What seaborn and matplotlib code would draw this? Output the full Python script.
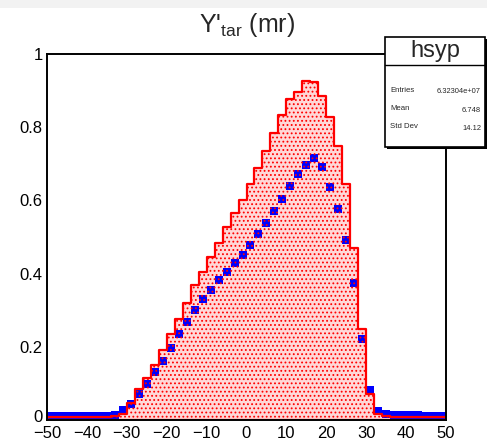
import numpy as np
import pandas as pd
import matplotlib
matplotlib.use("Agg")
import matplotlib.pyplot as plt
import matplotlib.transforms as mtransforms
from matplotlib.patches import Rectangle
import seaborn as sns

# ---------------- data ----------------
bin_edges = list(range(-50, 52, 2))
bin_centers = list(range(-49, 50, 2))

hist_values = [
    0.008, 0.008, 0.008, 0.008, 0.008, 0.008, 0.008, 0.008, 0.012, 0.016,
    0.046, 0.084, 0.116, 0.151, 0.192, 0.235, 0.277, 0.320, 0.370, 0.405,
    0.446, 0.483, 0.528, 0.565, 0.602, 0.646, 0.689, 0.734, 0.785, 0.832,
    0.878, 0.895, 0.927, 0.924, 0.885, 0.829, 0.750, 0.646, 0.469, 0.248,
    0.072, 0.016, 0.012, 0.009, 0.008, 0.008, 0.008, 0.008, 0.008, 0.008,
]
marker_values = [
    0.011, 0.011, 0.011, 0.011, 0.011, 0.011, 0.011, 0.011, 0.013, 0.027,
    0.043, 0.071, 0.099, 0.130, 0.162, 0.196, 0.235, 0.269, 0.301, 0.331,
    0.356, 0.382, 0.405, 0.428, 0.451, 0.477, 0.507, 0.538, 0.571, 0.605,
    0.640, 0.672, 0.697, 0.716, 0.692, 0.637, 0.576, 0.492, 0.373, 0.222,
    0.082, 0.025, 0.017, 0.014, 0.014, 0.013, 0.013, 0.012, 0.012, 0.012,
]
xtick_values = [-50, -40, -30, -20, -10, 0, 10, 20, 30, 40, 50]
ytick_values = [0, 0.2, 0.4, 0.6, 0.8, 1.0]
ytick_labels = ["0", "0.2", "0.4", "0.6", "0.8", "1"]
title_text = "Y'$_{\\mathrm{tar}}$ (mr)"
stats_name = "hsyp"
stats_labels = ["Entries", "Mean", "Std Dev"]
stats_values = ["6.32304e+07", "6.748", "14.12"]

df = pd.DataFrame({"x": bin_centers, "h": hist_values, "m": marker_values})

# ---------------- style ----------------
sns.set_style("white")
plt.rcParams["font.family"] = ["Liberation Sans", "DejaVu Sans"]
plt.rcParams["mathtext.fontset"] = "custom"
plt.rcParams["mathtext.rm"] = "Liberation Sans"
plt.rcParams["mathtext.it"] = "Liberation Sans:italic"
plt.rcParams["hatch.color"] = "red"
plt.rcParams["hatch.linewidth"] = 0.8

W, H = 487, 446
fig = plt.figure(figsize=(W / 100, H / 100), dpi=100)
fig.patch.set_facecolor("white")
fig.add_artist(Rectangle((0, 1 - 8 / H), 1, 8 / H, transform=fig.transFigure,
                         facecolor="#f2f2f2", edgecolor="none", zorder=0))

ax = fig.add_axes([47 / W, 1 - 420 / H, (446 - 47) / W, (420 - 54) / H])

# pink fill underneath
sns.histplot(data=df, x="x", weights="h", bins=bin_edges, element="step",
             fill=True, stat="count", ax=ax, color="#ffd8d8", alpha=1.0,
             linewidth=0, zorder=1)
# markers
sns.scatterplot(data=df, x="x", y="m", marker="s", s=32, color="#0000ff",
                edgecolor="#0000ff", linewidth=0, ax=ax, zorder=2)
# hatch + outline on top
n_before = len(ax.collections)
sns.histplot(data=df, x="x", weights="h", bins=bin_edges, element="step",
             fill=True, stat="count", ax=ax, color="red", alpha=1.0,
             linewidth=1.6, hatch="....", zorder=3)
for coll in ax.collections[n_before:]:
    coll.set_facecolor("none")
    coll.set_edgecolor("red")
    coll.set_hatch("....")

ax.set_xlim(-50, 50)
ax.set_ylim(0, 1)
ax.set_xlabel("")
ax.set_ylabel("")
ax.set_xticks(xtick_values)
ax.set_xticks(list(range(-50, 51, 2)), minor=True)
ax.set_yticks(ytick_values)
ax.set_yticklabels(ytick_labels)
ax.set_yticks(list(np.arange(0, 1.0001, 0.05)), minor=True)
ax.tick_params(axis="both", which="both", direction="in", top=False, right=False,
               labelsize=12, colors="black", width=1.0)
ax.tick_params(axis="y", which="major", length=8.5, pad=3)
ax.tick_params(axis="y", which="minor", length=4.5)
ax.tick_params(axis="x", which="major", length=7, pad=4.5)
ax.tick_params(axis="x", which="minor", length=4)
for sp in ax.spines.values():
    sp.set_visible(True)
    sp.set_color("black")
    sp.set_linewidth(1.4)
    sp.set_zorder(5)
# nudge the "0" label up a few pixels so it clears "-50", as in the reference
zero_lbl = ax.yaxis.get_major_ticks()[0].label1
zero_lbl.set_transform(zero_lbl.get_transform()
                       + mtransforms.ScaledTranslation(0, 3.5 / 100, fig.dpi_scale_trans))

# title
fig.text(247 / W, 1 - 32 / H, title_text, ha="center", va="baseline", fontsize=18)

# stats box
bx0, bx1, by0, by1 = 385, 485, 37, 147
fig.add_artist(Rectangle((bx0 / W + 2 / W, 1 - (by1 + 2) / H), (bx1 - bx0) / W, (by1 - by0) / H,
                         transform=fig.transFigure, facecolor="black", edgecolor="none", zorder=9))
fig.add_artist(Rectangle((bx0 / W, 1 - by1 / H), (bx1 - bx0) / W, (by1 - by0) / H,
                         transform=fig.transFigure, facecolor="white", edgecolor="black",
                         linewidth=1.2, zorder=10))
fig.add_artist(plt.Line2D([bx0 / W, bx1 / W], [1 - 65 / H, 1 - 65 / H],
                          transform=fig.transFigure, color="black", linewidth=1.0, zorder=11))
fig.text(435 / W, 1 - 51.5 / H, stats_name, ha="center", va="center", fontsize=17, zorder=12)
row_y = [90, 108.5, 127]
for lab, val, yy in zip(stats_labels, stats_values, row_y):
    fig.text(390 / W, 1 - yy / H, lab, ha="left", va="center", fontsize=5.6, zorder=12)
    fig.text(481 / W, 1 - (yy + 1.5) / H, val, ha="right", va="center", fontsize=5.4, zorder=12)

fig.savefig("out.png", dpi=100)
